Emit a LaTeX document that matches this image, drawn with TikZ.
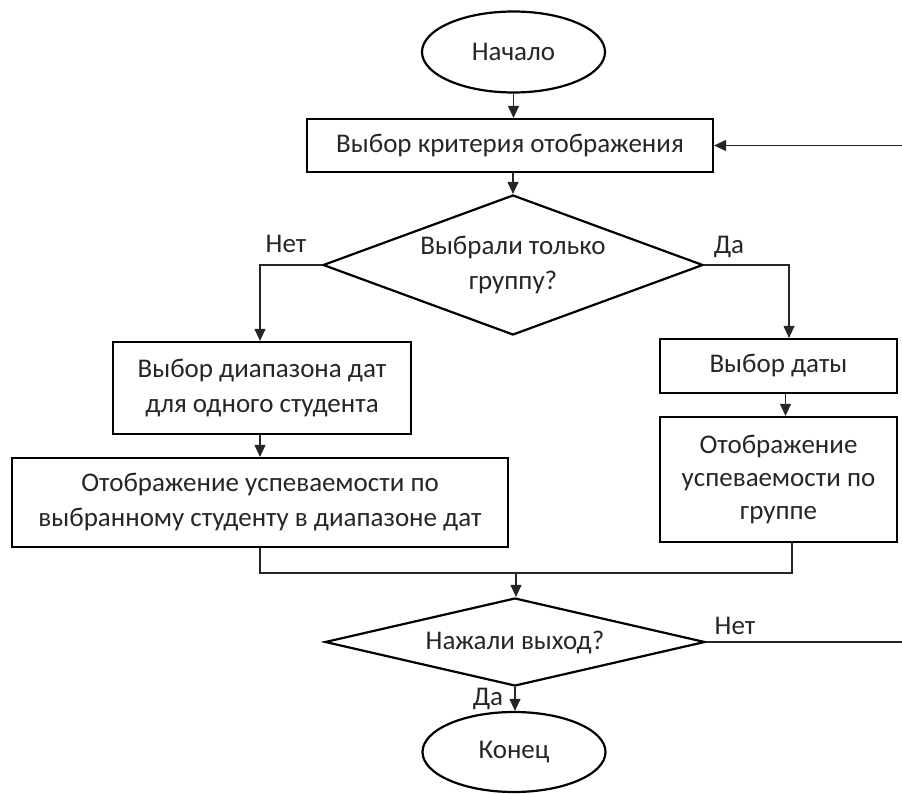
\documentclass[tikz,border=0pt]{standalone}
\usepackage{fontspec}
\setmainfont{Carlito}
\usetikzlibrary{shapes.geometric,arrows.meta}

\begin{document}
\begin{tikzpicture}[x=1pt,y=-1pt,>={Triangle[length=12pt,width=11pt]},
    font=\fontsize{27}{35}\selectfont,
    every node/.style={text=black!85},
    figure/.style={draw=black,line width=2.2pt,inner sep=0pt,align=center},
    terminal/.style={figure,ellipse,minimum width=183,minimum height=81},
    block/.style={figure,rectangle},
    question/.style={figure,diamond,minimum width=380},
    flow/.style={line width=1.1pt,draw=black!85}]
    \useasboundingbox (0,0) rectangle (902,794);
    \node[terminal] (start) at (513.5,52) {Начало};
    \node[block,minimum width=406,minimum height=53] (crit) at (510,145.5) {Выбор критерия отображения};
    \node[question,aspect=2.7,minimum height=140] (onlygrp) at (513,265) {Выбрали только\\группу?};
    \node[block,minimum width=298,minimum height=92] (range) at (262,388) {Выбор диапазона дат\\для одного студента};
    \node[block,minimum width=496,minimum height=89] (showstud) at (260,502.5) {Отображение успеваемости по\\выбранному студенту в диапазоне дат};
    \node[block,minimum width=237,minimum height=54] (date) at (778.5,366) {Выбор даты};
    \node[block,minimum width=237,minimum height=125,font=\fontsize{27}{33}\selectfont] (showgrp) at (778.5,479.5) {Отображение\\успеваемости по\\группе};
    \node[question,aspect=4.3,minimum height=88] (exitq) at (515,642) {Нажали выход?};
    \node[terminal,minimum height=80] (finish) at (514,752) {Конец};
    \coordinate (merge) at (516,573);
    \coordinate (back) at (906,0);

    \draw[flow,->] (start) -- (start |- crit.north);
    \draw[flow,->] (onlygrp.north |- crit.south) -- (onlygrp.north);
    \draw[flow,->] (onlygrp.west) -| ([xshift=-2pt]range.north);
    \draw[flow,->] ([xshift=-2pt]range.south) -- ([xshift=-2pt]range.south |- showstud.north);
    \draw[flow,->] (onlygrp.east) -| ([xshift=10.5pt]date.north);
    \draw[flow,->] ([xshift=7pt]date.south) -- ([xshift=7pt]showgrp.north);
    \draw[flow] (showstud.south) |- (merge);
    \draw[flow] ([xshift=13.5pt]showgrp.south) |- (merge);
    \draw[flow,->] (merge) -- (merge |- exitq.north);
    \draw[flow,->] (exitq.south) -- (exitq.south |- finish.north);
    \draw[flow,->] (exitq.east) -- (exitq.east -| back) |- (crit.east);

    \node (no1) at (286,244) {Нет};
    \node (yes1) at (729,247) {Да};
    \node (no2) at (735,626) {Нет};
    \node (yes2) at (488,699) {Да};
  \end{tikzpicture}
\end{document}
